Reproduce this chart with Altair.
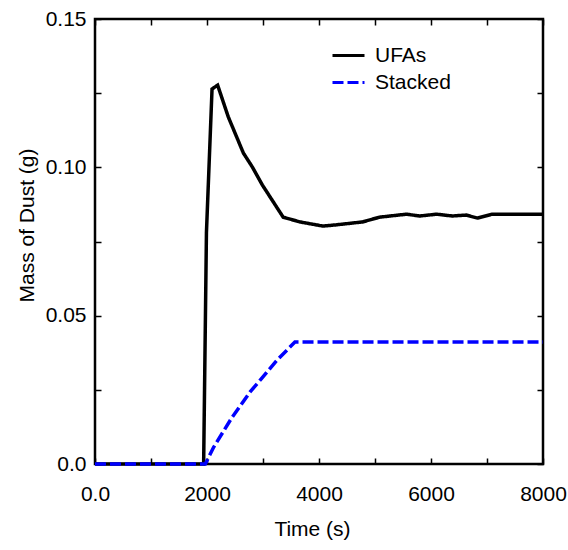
import altair as alt
import pandas as pd

series_order = ["UFAs", "Stacked"]

ufa_time = [0, 1940, 1990, 2090, 2190, 2380, 2650, 2810, 2990, 3360, 3660, 4070, 4300, 4780, 5080, 5560, 5800, 6100, 6380, 6630, 6830, 7090, 8000]
ufa_mass = [0, 0, 0.078, 0.1264, 0.1277, 0.117, 0.1048, 0.1001, 0.094, 0.0832, 0.0816, 0.0802, 0.0806, 0.0816, 0.0832, 0.0842, 0.0836, 0.0842, 0.0836, 0.0839, 0.0829, 0.0842, 0.0842]

stk_time = [0, 1970, 2120, 2450, 2630, 2770, 2950, 3250, 3570, 8000]
stk_mass = [0, 0, 0.0057, 0.0158, 0.0206, 0.0243, 0.0283, 0.035, 0.0411, 0.0411]

x_ticks = [0, 1000, 2000, 3000, 4000, 5000, 6000, 7000, 8000]
y_ticks = [0, 0.025, 0.05, 0.075, 0.10, 0.125, 0.15]

df = pd.concat([
    pd.DataFrame({"time": ufa_time, "mass": ufa_mass, "series": "UFAs"}),
    pd.DataFrame({"time": stk_time, "mass": stk_mass, "series": "Stacked"}),
])

FONT = "Liberation Sans"

legend = alt.Legend(
    title=None, orient="none", legendX=243, legendY=26,
    symbolType="M-4,0H4", symbolSize=64, symbolStrokeWidth=3,
    labelFontSize=21, labelFont=FONT, labelColor="black",
    labelOffset=16, rowPadding=5, padding=0,
)

base = alt.Chart(df).mark_line(strokeWidth=3.5).encode(
    x=alt.X("time:Q", title="Time (s)",
            scale=alt.Scale(domain=[0, 8000], nice=False, zero=False),
            axis=alt.Axis(values=x_ticks, gridDash=[6, 433, 6, 100],
                          labelExpr="datum.value == 0 ? '0.0' : (datum.value % 2000 == 0 ? format(datum.value, 'd') : '')",
                          labelPadding=19, titlePadding=14, titleX=217)),
    y=alt.Y("mass:Q", title="Mass of Dust (g)",
            scale=alt.Scale(domain=[0, 0.15], nice=False),
            axis=alt.Axis(values=y_ticks, gridDash=[6, 436, 6, 100],
                          labelExpr="datum.value == 0 ? '0.0' : (round(datum.value * 40) % 2 == 0 ? format(datum.value, '.2f') : '')",
                          labelPadding=9, titleX=-58, titleY=206)),
    color=alt.Color("series:N", scale=alt.Scale(domain=series_order, range=["#000000", "#0000ff"]), legend=legend),
    strokeDash=alt.StrokeDash("series:N", scale=alt.Scale(domain=series_order, range=[[1, 0], [11, 4]]), legend=legend),
)

ufa = base.transform_filter(alt.datum.series == "UFAs")
stk = base.transform_filter(alt.datum.series == "Stacked")

chart = alt.layer(ufa, stk).properties(
    width=448, height=445,
    padding={"left": 95, "top": 19, "right": 25, "bottom": 86},
    autosize=alt.AutoSizeParams(type="none"),
).configure_view(
    stroke="black", strokeWidth=2.5
).configure_axis(
    domain=False, ticks=False, grid=True, gridColor="black", gridWidth=1.5, gridOpacity=1,
    labelFlush=False, labelOverlap=False, labelBound=False,
    labelFont=FONT, labelFontSize=21, labelColor="black",
    titleFont=FONT, titleFontSize=21, titleFontWeight="normal", titleColor="black",
)

chart.save("out.html", embed_options={"renderer": "svg", "actions": False})
